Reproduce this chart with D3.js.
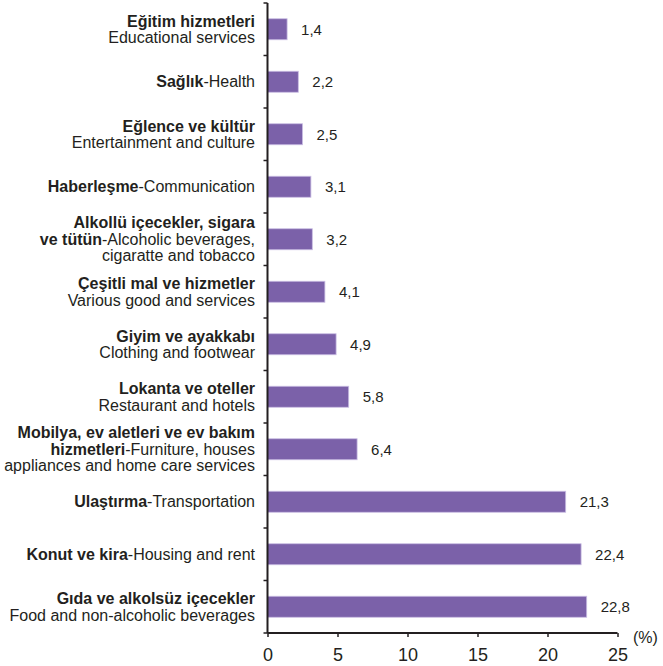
<!DOCTYPE html>
<html>
<head>
<meta charset="utf-8">
<script src="https://cdn.jsdelivr.net/npm/d3@7"></script>
<style>
  body { margin: 0; background: #fff; }
  text { font-family: "Liberation Sans", Arial, sans-serif; fill: #231f20; }
</style>
</head>
<body>
<div id="chart"></div>
<script>
// label lines: each line is [bold part, normal part]
const labels = [
    [["Eğitim hizmetleri", ""], ["", "Educational services"]],
    [["Sağlık", "-Health"]],
    [["Eğlence ve kültür", ""], ["", "Entertainment and culture"]],
    [["Haberleşme", "-Communication"]],
    [["Alkollü içecekler, sigara", ""], ["ve tütün", "-Alcoholic beverages,"], ["", "cigaratte and tobacco"]],
    [["Çeşitli mal ve hizmetler", ""], ["", "Various good and services"]],
    [["Giyim ve ayakkabı", ""], ["", "Clothing and footwear"]],
    [["Lokanta ve oteller", ""], ["", "Restaurant and hotels"]],
    [["Mobilya, ev aletleri ve ev bakım", ""], ["hizmetleri", "-Furniture, houses"], ["", "appliances and home care services"]],
    [["Ulaştırma", "-Transportation"]],
    [["Konut ve kira", "-Housing and rent"]],
    [["Gıda ve alkolsüz içecekler", ""], ["", "Food and non-alcoholic beverages"]]
];
const values = [1.4, 2.2, 2.5, 3.1, 3.2, 4.1, 4.9, 5.8, 6.4, 21.3, 22.4, 22.8];
const xTicks = [0, 5, 10, 15, 20, 25];

const width = 663, height = 666;
const margin = {top: 3, right: 45, bottom: 33, left: 267.5};

const svg = d3.select("#chart").append("svg")
    .attr("width", width)
    .attr("height", height);

const idx = d3.range(values.length);

const x = d3.scaleLinear()
    .domain([0, 25])
    .range([margin.left, 617.5]);

const y = d3.scaleBand()
    .domain(idx)
    .range([margin.top, height - margin.bottom])
    .paddingInner(0.6)
    .paddingOuter(0.3);

// bars
svg.append("g")
    .selectAll("rect")
    .data(idx)
    .join("rect")
    .attr("x", x(0))
    .attr("y", i => y(i))
    .attr("width", i => x(values[i]) - x(0))
    .attr("height", y.bandwidth())
    .attr("fill", "#7b61a9")
    .attr("stroke", "#c9bde3")
    .attr("stroke-width", 0.8);

// value labels
svg.append("g")
    .selectAll("text")
    .data(idx)
    .join("text")
    .attr("x", i => x(values[i]) + 14)
    .attr("y", i => y(i) + y.bandwidth() / 2)
    .attr("dy", "0.35em")
    .style("font-size", "15px")
    .text(i => d3.format(".1f")(values[i]).replace(".", ","));

// y axis line with category separators
const step = y.step();
const sepY = d3.range(values.length + 1).map(k => margin.top + k * step);
const yAxis = svg.append("g").attr("stroke", "#231f20");
yAxis.append("line")
    .attr("x1", x(0)).attr("x2", x(0))
    .attr("y1", margin.top).attr("y2", height - margin.bottom)
    .attr("stroke-width", 2);
yAxis.selectAll(".sep")
    .data(sepY)
    .join("line")
    .attr("x1", x(0) - 4).attr("x2", x(0))
    .attr("y1", d => d).attr("y2", d => d)
    .attr("stroke-width", 1.5);

// x axis
const xAxis = svg.append("g")
    .attr("transform", `translate(0,${height - margin.bottom})`)
    .call(d3.axisBottom(x).tickValues(xTicks).tickSize(4).tickPadding(11).tickFormat(d3.format("d")));
xAxis.select(".domain").attr("stroke", "#231f20").attr("stroke-width", 2)
    .attr("d", `M${x(0)},0H${x(25)}`);
xAxis.selectAll(".tick line").attr("stroke", "#231f20").attr("stroke-width", 1.5);
xAxis.selectAll(".tick text")
    .style("font-size", "18px")
    .style("font-family", "\"Liberation Sans\", Arial, sans-serif")
    .attr("fill", "#231f20");

svg.append("text")
    .attr("x", 633)
    .attr("y", height - margin.bottom + 10)
    .style("font-size", "16px")
    .text("(%)");

// category labels
const lineH = 16.5;
const labelG = svg.append("g");
idx.forEach(i => {
    const lines = labels[i];
    const cy = y(i) + y.bandwidth() / 2;
    const y0 = cy - (lines.length - 1) * lineH / 2;
    lines.forEach((ln, j) => {
        const t = labelG.append("text")
            .attr("x", 255)
            .attr("y", y0 + j * lineH)
            .attr("dy", "0.35em")
            .attr("text-anchor", "end")
            .style("font-size", "16px");
        if (ln[0]) t.append("tspan").attr("font-weight", "bold").text(ln[0]);
        if (ln[1]) t.append("tspan").text(ln[1]);
    });
});
</script>
</body>
</html>
